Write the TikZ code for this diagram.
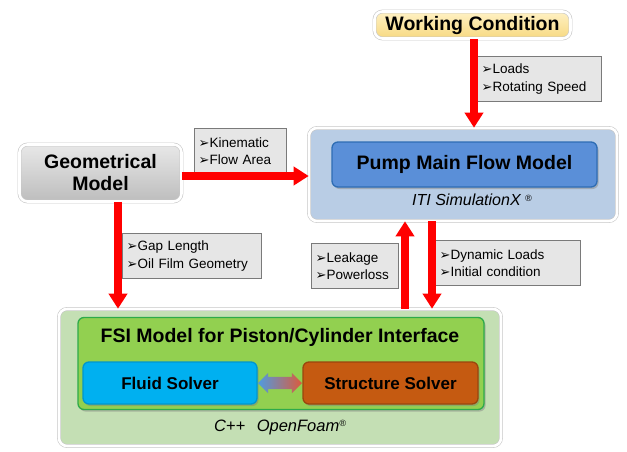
\documentclass[tikz,border=0pt]{standalone}
\usepackage{fontspec}
\setmainfont{Liberation Sans}
\newfontfamily\dejavu{DejaVu Sans}
\usetikzlibrary{arrows.meta,shapes.arrows,shadows}
\definecolor{flowred}{HTML}{FF0000}
\definecolor{wctop}{HTML}{FFF1C4}
\definecolor{wcbot}{HTML}{F7D981}
\definecolor{geotop}{HTML}{E8E8E8}
\definecolor{geobot}{HTML}{BDBDBD}
\definecolor{pumpbg}{HTML}{B9CDE5}
\definecolor{pumpfill}{HTML}{5A8FD8}
\definecolor{pumpline}{HTML}{2E6DB4}
\definecolor{fsibg}{HTML}{C4DFB4}
\definecolor{fsifill}{HTML}{92D050}
\definecolor{fsiline}{HTML}{2EAA4A}
\definecolor{fluidfill}{HTML}{00B0F0}
\definecolor{fluidline}{HTML}{0096CF}
\definecolor{structfill}{HTML}{C55A11}
\definecolor{structline}{HTML}{9A460D}
\definecolor{labfill}{HTML}{E6E6E6}
\definecolor{labline}{HTML}{7A7A7A}
\definecolor{swapblue}{HTML}{4F9BE0}
\definecolor{swapred}{HTML}{DC5A3C}
\newcommand{\arrbul}{{\dejavu\fontsize{13}{13}\selectfont\char"27A2}}
\newcommand{\regmark}{\raisebox{0.55ex}{\fontsize{9}{9}\selectfont\textregistered}}
\tikzset{
    outerbox/.style={rounded corners=8pt, draw=black!22, line width=0.6pt, double=white,
        double distance=2.6pt, inner sep=0pt,
        drop shadow={shadow xshift=0.8pt, shadow yshift=-0.8pt, opacity=0.25}},
    innerbox/.style={rounded corners=6pt, line width=1.3pt, inner sep=0pt,
        drop shadow={shadow xshift=1.5pt, shadow yshift=-2pt, opacity=0.45}},
    bigfont/.style={font=\fontsize{19.5}{22}\selectfont\bfseries},
    lab/.style={draw=labline, fill=labfill, line width=1.3pt, anchor=north west, align=left,
        inner xsep=4pt, inner ysep=0pt, font=\fontsize{13.5}{17.5}\selectfont},
    flow/.style={draw=flowred, line width=8pt, -{Triangle[width=18pt,length=15pt]}},
}
\begin{document}
\begin{tikzpicture}[x=1pt, y=-1pt]
    \useasboundingbox (0,0) rectangle (627,451);
    % outer frames
    \node[outerbox, top color=wctop, bottom color=wcbot, minimum width=196pt, minimum height=27pt,
        bigfont] (wc) at (472.5,25) {Working Condition};
    \node[outerbox, top color=geotop, bottom color=geobot, minimum width=162pt, minimum height=57pt,
        bigfont, align=center] (geo) at (100.5,173) {Geometrical\\Model};
    \node[outerbox, fill=pumpbg, minimum width=308pt, minimum height=93pt] (pumpout) at (463,174.5) {};
    \node[outerbox, fill=fsibg, minimum width=442pt, minimum height=137pt] (fsiout) at (280,377.5) {};
    % inner boxes
    \node[innerbox, fill=pumpfill, draw=pumpline, minimum width=265pt, minimum height=45pt,
        bigfont] (pumpin) at (464.5,164.5) {Pump Main Flow Model};
    \node[font=\fontsize{16}{19}\selectfont\itshape] (iti) at (472,200) {ITI SimulationX \regmark};
    \node[innerbox, fill=fsifill, draw=fsiline, minimum width=406pt, minimum height=92pt] (fsiin) at (281,363.5) {};
    \node[bigfont] (fsititle) at (280,337) {FSI Model for Piston/Cylinder Interface};
    \node[innerbox, fill=fluidfill, draw=fluidline, minimum width=174pt, minimum height=42pt,
        font=\fontsize{17}{20}\selectfont\bfseries] (fluid) at (170,383) {Fluid Solver};
    \node[innerbox, fill=structfill, draw=structline, minimum width=175pt, minimum height=42pt,
        font=\fontsize{17}{20}\selectfont\bfseries] (struct) at (390.5,383) {Structure Solver};
    \path (fluid.east) -- (struct.west) node[midway, double arrow, inner xsep=0pt, inner ysep=6pt,
        minimum height=44pt, double arrow head extend=4pt, left color=swapblue,
        right color=swapred] (swap) {};
    \node[font=\fontsize{16.5}{19}\selectfont\itshape] (foam) at (280,427) {C++\hspace{0.7em}OpenFoam\regmark};
    % label boxes
    \foreach \n/\x/\y/\tw/\t in {
        loads/477/56/116/{\arrbul Loads\\\arrbul Rotating Speed},
        kin/194/128/84/{\arrbul Kinematic\\\arrbul Flow Area},
        gap/122/233/131/{\arrbul Gap Length\\\arrbul Oil Film Geometry},
        leak/311/243/79/{\arrbul Leakage\\\arrbul Powerloss},
        dyn/435/240/137/{\arrbul Dynamic Loads\\\arrbul Initial condition}}{
        \node[lab, text width=\tw pt, minimum height=45pt] (\n) at (\x,\y) {\t};
    }
    % red flows
    \coordinate (upA) at ([xshift=-58pt]pumpout.south);
    \coordinate (dnA) at ([xshift=-31pt]pumpout.south);
    \coordinate (wcA) at ([xshift=1.5pt]wc.south);
    \coordinate (geoA) at ([yshift=-3pt]geo.east);
    \coordinate (geoB) at ([xshift=17.5pt]geo.south);
    \draw[flow] (wcA) -- (wcA |- pumpout.north);
    \draw[flow] (geoA) -- (geoA -| pumpout.west);
    \draw[flow] (geoB) -- (geoB |- fsiout.north);
    \draw[flow] (upA |- fsiout.north) -- (upA);
    \draw[flow] (dnA) -- (dnA |- fsiout.north);
\end{tikzpicture}
\end{document}
